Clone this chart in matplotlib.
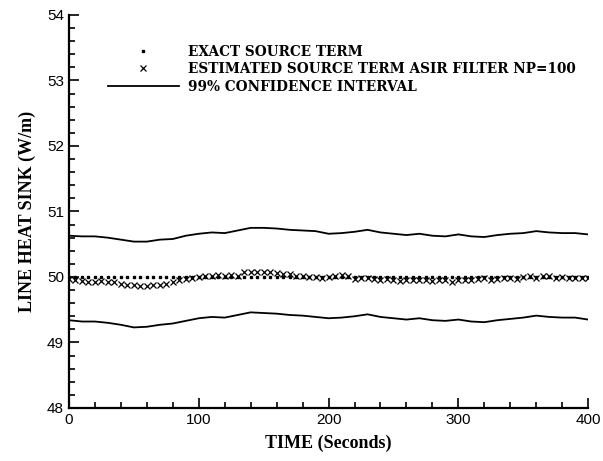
import numpy as np
import matplotlib.pyplot as plt
from matplotlib.ticker import MultipleLocator

# confidence interval bounds, every 10 s
ci_time = np.arange(0, 401, 10)
ci_upper = [50.63, 50.62, 50.62, 50.60, 50.57, 50.54, 50.54, 50.57, 50.58, 50.63,
            50.66, 50.68, 50.67, 50.71, 50.75, 50.75, 50.74, 50.72, 50.71, 50.70,
            50.66, 50.67, 50.69, 50.72, 50.68, 50.66, 50.64, 50.66, 50.63, 50.62,
            50.65, 50.62, 50.61, 50.64, 50.66, 50.67, 50.70, 50.68, 50.67, 50.67,
            50.65]
ci_lower = [49.34, 49.32, 49.32, 49.30, 49.27, 49.23, 49.24, 49.27, 49.29, 49.33,
            49.37, 49.39, 49.38, 49.42, 49.46, 49.45, 49.44, 49.42, 49.41, 49.39,
            49.37, 49.38, 49.40, 49.43, 49.39, 49.37, 49.35, 49.37, 49.34, 49.33,
            49.35, 49.32, 49.31, 49.34, 49.36, 49.38, 49.41, 49.39, 49.38, 49.38,
            49.35]

# source term, every 5 s
src_time = np.arange(0, 401, 5)
exact = [50.0] * len(src_time)
estimated = [49.97, 49.96, 49.94,
             49.93, 49.93, 49.94, 49.92, 49.93, 49.90, 49.88,
             49.87, 49.86, 49.86, 49.87, 49.88, 49.89, 49.92,
             49.95, 49.97, 49.98,
             50.00, 50.02, 50.02, 50.03, 50.02, 50.03, 50.02,
             50.07, 50.08, 50.07, 50.08, 50.07, 50.06, 50.05, 50.04,
             50.02, 50.01, 50.00, 50.00, 49.99, 50.00, 50.01, 50.03, 50.02, 49.97, 49.99,
             49.98, 49.97, 49.96, 49.97, 49.95, 49.94, 49.96,
             49.95, 49.96, 49.95, 49.94, 49.96, 49.95, 49.93, 49.96, 49.95, 49.96,
             49.97, 49.98, 49.96, 49.97,
             49.98, 49.99, 49.97, 50.00, 50.01, 49.99, 50.02, 50.01, 49.99, 50.00,
             49.98, 49.99, 49.98, 49.98]

plt.rcParams['font.family'] = ['Liberation Sans', 'DejaVu Sans']

fig = plt.figure(figsize=(6.03, 4.61), dpi=100)
ax = fig.add_axes([0.1144, 0.115, 0.861, 0.8525])

ax.plot(src_time, exact, ls='none', marker='s', ms=1.6, color='black',
        label="EXACT SOURCE TERM")
ax.plot(src_time, estimated, ls='none', marker='x', ms=4.2, mew=0.9, color='black',
        label="ESTIMATED SOURCE TERM ASIR FILTER NP=100")
ax.plot(ci_time, ci_upper, color='black', lw=1.3, label="99% CONFIDENCE INTERVAL")
ax.plot(ci_time, ci_lower, color='black', lw=1.3)

ax.set_xlim(0, 400)
ax.set_ylim(48, 54)
ax.xaxis.set_major_locator(MultipleLocator(100))
ax.xaxis.set_minor_locator(MultipleLocator(20))
ax.yaxis.set_major_locator(MultipleLocator(1))
ax.yaxis.set_minor_locator(MultipleLocator(0.2))
ax.tick_params(which='both', direction='in', width=1.2, labelsize=11)
ax.tick_params(which='major', length=7)
ax.tick_params(which='minor', length=4)
for side in ('top', 'right'):
    ax.spines[side].set_visible(False)
for side in ('left', 'bottom'):
    ax.spines[side].set_linewidth(1.6)

ax.set_xlabel("TIME (Seconds)", family='Liberation Serif', fontweight='bold',
              fontsize=13, labelpad=6)
ax.set_ylabel("LINE HEAT SINK (W/m)", family='Liberation Serif', fontweight='bold',
              fontsize=13, labelpad=8)

ax.legend(loc='upper left', bbox_to_anchor=(0.075, 0.924), frameon=False,
          borderpad=0, borderaxespad=0,
          handlelength=5.2, handletextpad=0.7, labelspacing=0.25,
          prop={'family': 'DejaVu Serif', 'weight': 'bold', 'size': 9.8})

fig.savefig("out.png", dpi=100)
